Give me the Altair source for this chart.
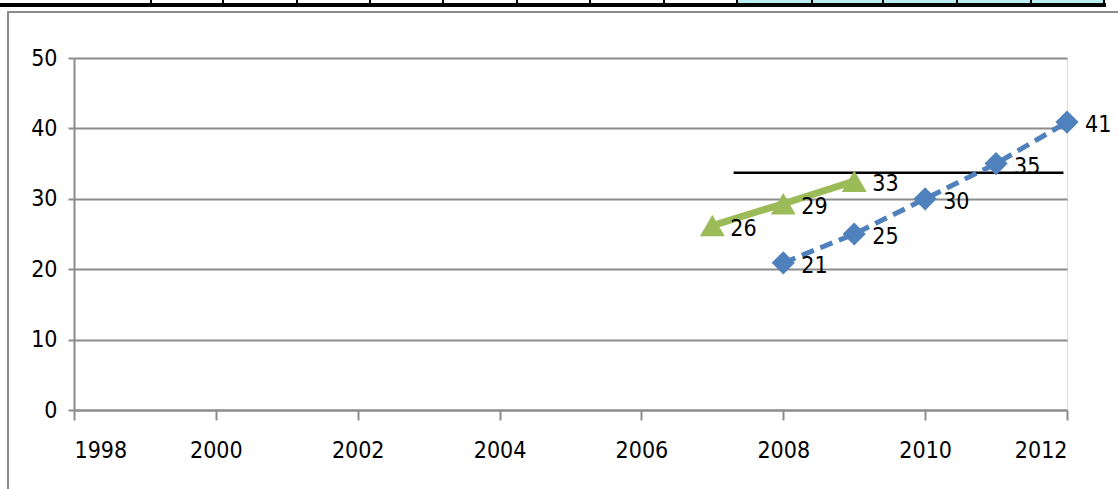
import altair as alt
import pandas as pd

# ---- data ----
green_years = [2007, 2008, 2009]
green_values = [26.2, 29.3, 32.5]
green_labels = ["26", "29", "33"]

blue_years = [2008, 2009, 2010, 2011, 2012]
blue_values = [20.9, 25.0, 30.0, 35.0, 40.9]
blue_labels = ["21", "25", "30", "35", "41"]

ref_start, ref_end, ref_value = 2007.3, 2011.95, 33.7

x_ticks = list(range(1998, 2013, 2))
y_ticks = [0, 10, 20, 30, 40, 50]

FONT = "'Liberation Sans Narrow', 'DejaVu Sans Condensed', 'Roboto Condensed', 'Liberation Sans', sans-serif"
GRAY = "#8c8c8c"
GREEN = "#9BBB59"
BLUE = "#4F81BD"

green = pd.DataFrame({"year": green_years, "value": green_values, "label": green_labels})
blue = pd.DataFrame({"year": blue_years, "value": blue_values, "label": blue_labels})
ref = pd.DataFrame({"x": [ref_start], "x2": [ref_end], "y": [ref_value]})

xs = alt.Scale(domain=[1998, 2012], nice=False, zero=False)
ys = alt.Scale(domain=[0, 50], nice=False)

x_axis = alt.Axis(values=x_ticks, format="d", grid=False, title=None,
                  tickSize=10, tickWidth=2, tickColor=GRAY,
                  domainColor=GRAY, domainWidth=2,
                  labelFont=FONT, labelFontSize=23, labelColor="black",
                  labelPadding=19)
y_axis = alt.Axis(values=y_ticks, grid=True, gridColor=GRAY, gridWidth=2,
                  title=None, tickSize=6, tickWidth=2, tickColor=GRAY,
                  domainColor=GRAY, domainWidth=2,
                  labelFont=FONT, labelFontSize=23, labelColor="black",
                  labelPadding=11)

base_axes = alt.Chart(pd.DataFrame({"year": [1998], "value": [0]})).mark_point(opacity=0).encode(
    x=alt.X("year:Q", scale=xs, axis=x_axis),
    y=alt.Y("value:Q", scale=ys, axis=y_axis),
)

ref_rule = alt.Chart(ref).mark_rule(color="black", strokeWidth=2.5).encode(
    x=alt.X("x:Q", scale=xs), x2="x2:Q", y=alt.Y("y:Q", scale=ys)
)

def series(df, color, shape, size, width, dash=None):
    line_kwargs = dict(color=color, strokeWidth=width)
    if dash:
        line_kwargs["strokeDash"] = dash
    line = alt.Chart(df).mark_line(**line_kwargs).encode(
        x=alt.X("year:Q", scale=xs), y=alt.Y("value:Q", scale=ys)
    )
    pts = alt.Chart(df).mark_point(shape=shape, filled=True, size=size, color=color, opacity=1).encode(
        x=alt.X("year:Q", scale=xs), y=alt.Y("value:Q", scale=ys)
    )
    txt = alt.Chart(df).mark_text(align="left", baseline="middle", dx=18, dy=3,
                                  font=FONT, fontSize=23, color="black").encode(
        x=alt.X("year:Q", scale=xs), y=alt.Y("value:Q", scale=ys), text="label:N"
    )
    return line + pts + txt

green_layer = series(green, GREEN, "triangle-up", 620, 7)
blue_layer = series(blue, BLUE, "diamond", 540, 5, dash=[13, 7])

# ---- decorations (frame and cropped table strip at top) ----
one = pd.DataFrame({"a": [0]})
frame = alt.Chart(one).mark_rect(fillOpacity=0, stroke=GRAY, strokeWidth=2, clip=False).encode(
    x=alt.value(-66), x2=alt.value(1100), y=alt.value(-46), y2=alt.value(460)
)
cyan = alt.Chart(one).mark_rect(color="#b8eef0", clip=False).encode(
    x=alt.value(663), x2=alt.value(1031), y=alt.value(-58), y2=alt.value(-55)
)
bar = alt.Chart(one).mark_rect(color="black", clip=False).encode(
    x=alt.value(-74), x2=alt.value(1032), y=alt.value(-55), y2=alt.value(-51)
)
dividers = []
for px in [151, 223, 297, 370, 443, 517, 590, 664, 737, 812, 883, 957, 1031, 1104]:
    dividers.append(alt.Chart(one).mark_rule(color="black", strokeWidth=2, clip=False).encode(
        x=alt.value(px - 74), y=alt.value(-58), y2=alt.value(-54)
    ))

chart = alt.layer(frame, cyan, bar, *dividers, base_axes, ref_rule, green_layer, blue_layer).properties(
    width=993, height=352,
    autosize=alt.AutoSizeParams(type="none"),
    padding={"left": 74, "top": 58, "right": 51, "bottom": 79},
).configure_view(stroke=None).configure(background="white")

chart.save("out.html", embed_options={"renderer": "svg", "actions": False})
